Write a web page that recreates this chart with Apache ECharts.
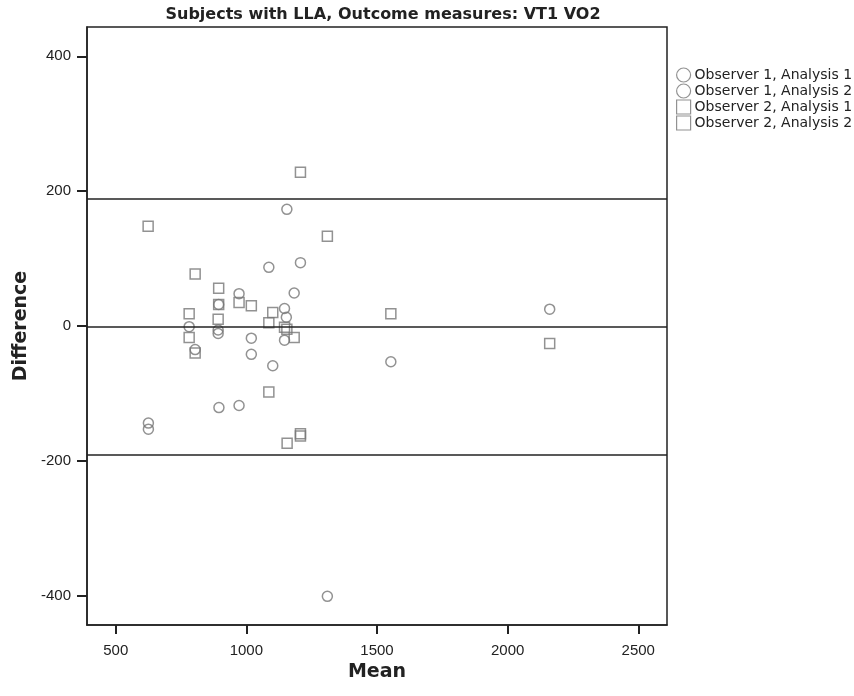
<!DOCTYPE html>
<html>
<head>
<meta charset="utf-8">
<script src="https://cdn.jsdelivr.net/npm/echarts@6/dist/echarts.min.js"></script>
<style>
html,body{margin:0;padding:0;background:#fff;}
#chart{width:854px;height:696px;}
</style>
</head>
<body>
<div id="chart"></div>
<script>
// ---- data ----
var seriesNames = ["Observer 1, Analysis 1", "Observer 1, Analysis 2", "Observer 2, Analysis 1", "Observer 2, Analysis 2"];

var o1a1Mean = [625, 781, 894, 892, 972, 1019, 1086, 1146, 1155, 1183, 1310, 1553];
var o1a1Diff = [-144, -1, 32, -6, 48, -18, 87, 26, 173, 49, -401, -53];

var o1a2Mean = [625, 804, 892, 895, 972, 1019, 1101, 1146, 1153, 1207, 2161];
var o1a2Diff = [-153, -35, -11, -121, -118, -42, -59, -21, 13, 94, 25];

var o2a1Mean = [624, 781, 804, 894, 972, 1019, 1086, 1146, 1183, 1207, 1310, 1553];
var o2a1Diff = [148, 18, 77, 56, 35, 30, 5, -2, -17, 228, 133, 18];

var o2a2Mean = [781, 804, 894, 892, 1101, 1086, 1155, 1156, 1207, 1207, 2161];
var o2a2Diff = [-17, -40, 32, 10, 20, -98, -5, -174, -160, -163, -26];

var refLines = [189, -1, -191];            // upper LoA, mean difference, lower LoA
var xTicks = [500, 1000, 1500, 2000, 2500];
var yTicks = [-400, -200, 0, 200, 400];

function pairs(xs, ys) { return xs.map(function (x, i) { return [x, ys[i]]; }); }

var chart = echarts.init(document.getElementById('chart'), null, { renderer: 'canvas' });
var FONT = 'DejaVu Sans, Liberation Sans, Arial, sans-serif';
var TICKFONT = 'Liberation Sans, Arial, Helvetica, sans-serif';
var markerStyle = { color: 'rgba(0,0,0,0)', borderColor: '#777777', borderWidth: 1.5 };

function mkSeries(name, symbol, xs, ys) {
  return {
    name: name, type: 'scatter', symbol: symbol, symbolSize: 10,
    data: pairs(xs, ys), itemStyle: markerStyle, z: 3,
    emphasis: { disabled: true }
  };
}

var series = [
  mkSeries(seriesNames[0], 'circle', o1a1Mean, o1a1Diff),
  mkSeries(seriesNames[1], 'circle', o1a2Mean, o1a2Diff),
  mkSeries(seriesNames[2], 'rect', o2a1Mean, o2a1Diff),
  mkSeries(seriesNames[3], 'rect', o2a2Mean, o2a2Diff)
];
series[0].markLine = {
  silent: true, symbol: ['none', 'none'], animation: false,
  label: { show: false },
  lineStyle: { color: '#222', width: 1.5, type: 'solid' },
  data: refLines.map(function (v) { return { yAxis: v }; })
};

function plain(v) { return String(v); }

chart.setOption({
  animation: false,
  backgroundColor: '#fff',
  textStyle: { fontFamily: FONT },
  title: {
    text: 'Subjects with LLA, Outcome measures: VT1 VO2',
    left: 378, top: 2, textAlign: 'center',
    textStyle: { fontFamily: FONT, fontSize: 16, fontWeight: 'bold', color: '#222' }
  },
  legend: {
    orient: 'vertical', left: 676, top: 67, itemGap: 0, padding: 0,
    itemWidth: 14, itemHeight: 14,
    data: seriesNames.map(function (n) { return { name: n }; }),
    itemStyle: { borderWidth: 1.2 },
    textStyle: { fontFamily: FONT, fontSize: 14, lineHeight: 16, color: '#222', padding: [0, 0, 0, -1] }
  },
  grid: {
    left: 87, right: 187, top: 27, bottom: 71,
    outerBoundsMode: 'none', containLabel: false,
    show: true, borderColor: '#222', borderWidth: 1.5, backgroundColor: 'transparent'
  },
  xAxis: {
    type: 'value', min: 390, max: 2610,
    name: 'Mean', nameLocation: 'middle', nameGap: 32,
    nameTextStyle: { fontFamily: FONT, fontSize: 19, fontWeight: 'bold', color: '#222' },
    axisLine: { show: true, onZero: false, lineStyle: { color: '#222', width: 1.5 } },
    axisTick: { show: true, length: 9, lineStyle: { color: '#222', width: 2 }, customValues: xTicks },
    axisLabel: { color: '#222', fontFamily: TICKFONT, fontSize: 15, margin: 18, customValues: xTicks, formatter: plain },
    splitLine: { show: false }
  },
  yAxis: {
    type: 'value', min: -443.5, max: 443.5,
    name: 'Difference', nameLocation: 'middle', nameGap: 56,
    nameTextStyle: { fontFamily: FONT, fontSize: 19, fontWeight: 'bold', color: '#222' },
    axisLine: { show: true, onZero: false, lineStyle: { color: '#222', width: 1.5 } },
    axisTick: { show: true, length: 10, lineStyle: { color: '#222', width: 2 }, customValues: yTicks },
    axisLabel: { color: '#222', fontFamily: TICKFONT, fontSize: 15, margin: 16, customValues: yTicks, formatter: plain },
    splitLine: { show: false }
  },
  series: series
});
</script>
</body>
</html>
